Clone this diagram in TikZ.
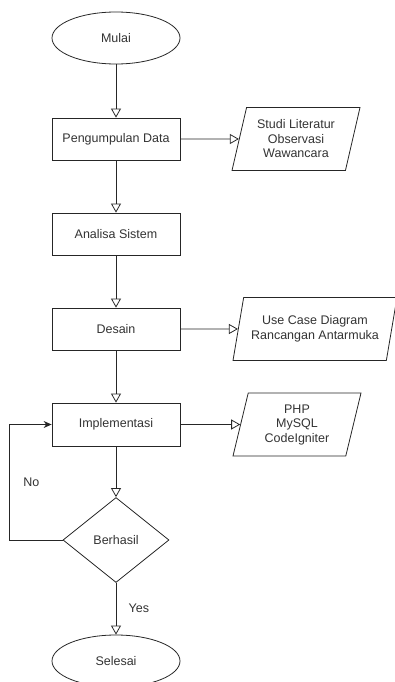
\documentclass[tikz,border=0pt]{standalone}
\usepackage{fontspec}
\setmainfont{Liberation Sans}
\usetikzlibrary{shapes.geometric, arrows.meta, positioning}

\begin{document}
\begin{tikzpicture}[x=1pt,y=1pt,node distance=95pt,on grid,auto,
    font=\fontsize{12.5}{14.5}\selectfont, text=black!80]
    \tikzstyle{terminal}=[shape=ellipse,draw=black!85,line width=0.8pt,minimum width=128pt,minimum height=52pt]
    \tikzstyle{process}=[shape=rectangle,draw=black!85,line width=0.8pt,minimum width=128pt,minimum height=42pt]
    \tikzstyle{data}=[shape=trapezium,trapezium left angle=72,trapezium right angle=108,trapezium stretches body,
        draw=black!85,line width=0.8pt,minimum height=63pt,align=center]
    \tikzstyle{decision}=[shape=diamond,draw=black!85,line width=0.8pt,aspect=1.25,minimum width=106pt,minimum height=85pt,inner sep=0pt]
    \tikzstyle{flow}=[draw=black!85,line width=0.8pt,-{Triangle[open,length=9pt,width=10pt]}]
    \tikzstyle{back}=[draw=black!85,line width=0.8pt,-{Stealth[length=8pt,width=7pt]}]

    \useasboundingbox (0,0) rectangle (395,-682);

    \node[terminal] (mulai) at (116,-38) {Mulai};
    \node[process, below=101pt of mulai] (kumpul) {Pengumpulan Data};
    \node[data, minimum width=128pt, right=180pt of kumpul] (studi) {Studi Literatur\\Observasi\\Wawancara};
    \node[process, below of=kumpul] (analisa) {Analisa Sistem};
    \node[process, below of=analisa] (desain) {Desain};
    \node[data, minimum width=164pt, right=199pt of desain] (usecase) {Use Case Diagram\\Rancangan Antarmuka};
    \node[process, below=95.5pt of desain, minimum height=43pt] (impl) {Implementasi};
    \node[data, minimum width=128pt, right=181pt of impl] (php) {PHP\\MySQL\\CodeIgniter};
    \node[decision, below=115.5pt of impl] (berhasil) {Berhasil};
    \node[terminal, below=121pt of berhasil] (selesai) {Selesai};

    \path[flow]
    (mulai) edge (kumpul)
    (kumpul) edge (studi)
    (kumpul) edge (analisa)
    (analisa) edge (desain)
    (desain) edge (usecase)
    (desain) edge (impl)
    (impl) edge (php)
    (impl) edge (berhasil)
    (berhasil) edge node[right=9pt] {Yes} (selesai)
    ;

    \draw[back] (berhasil.west) -- ++(-53,0) |- node[pos=0.25, right=10pt] {No} (impl.west);

  \end{tikzpicture}
\end{document}
